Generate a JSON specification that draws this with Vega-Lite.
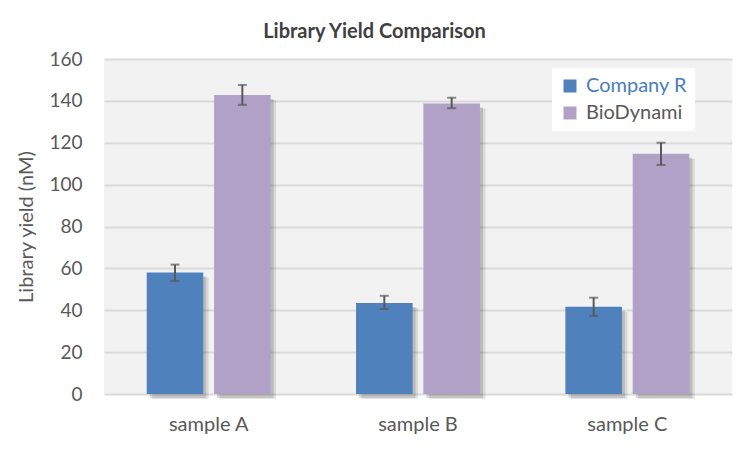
{
  "$schema": "https://vega.github.io/schema/vega-lite/v6.json",
  "width": 628,
  "height": 335,
  "padding": {"left": 16, "top": 22, "right": 23, "bottom": 10},
  "background": "white",
  "title": {
    "text": "Library Yield Comparison",
    "font": "Lato",
    "fontSize": 20,
    "fontWeight": "bold",
    "color": "#404040",
    "anchor": "middle",
    "frame": "bounds",
    "offset": 8
  },
  "data": {
    "values": [
      {"sample": "sample A", "company": "Company R", "yield": 58, "lo": 54, "hi": 61.8},
      {"sample": "sample A", "company": "BioDynami", "yield": 142.8, "lo": 138.1, "hi": 147.6},
      {"sample": "sample B", "company": "Company R", "yield": 43.5, "lo": 40.6, "hi": 46.9},
      {"sample": "sample B", "company": "BioDynami", "yield": 138.8, "lo": 136.5, "hi": 141.5},
      {"sample": "sample C", "company": "Company R", "yield": 41.7, "lo": 37.3, "hi": 46},
      {"sample": "sample C", "company": "BioDynami", "yield": 114.7, "lo": 109.4, "hi": 120}
    ]
  },
  "encoding": {
    "x": {
      "field": "sample",
      "type": "nominal",
      "scale": {"paddingInner": 0.408, "paddingOuter": 0.204},
      "axis": {
        "title": null,
        "labelAngle": 0,
        "domain": false,
        "ticks": false,
        "labelFont": "Lato",
        "labelFontSize": 20,
        "labelColor": "#595959",
        "labelPadding": 20
      }
    },
    "xOffset": {
      "field": "company",
      "type": "nominal",
      "sort": ["Company R", "BioDynami"],
      "scale": {"paddingInner": 0.16, "paddingOuter": 0}
    }
  },
  "layer": [
    {
      "mark": {"type": "bar", "color": "#000000", "opacity": 0.10, "yOffset": 5, "y2Offset": -5},
      "encoding": {
        "xOffset": {
          "field": "company",
          "type": "nominal",
          "sort": ["Company R", "BioDynami"],
          "scale": {"paddingInner": 0.16, "paddingOuter": 0, "range": [5.5, 129.4]}
        },
        "y": {"field": "yield", "type": "quantitative"}
      }
    },
    {
      "mark": {"type": "bar", "color": "#000000", "opacity": 0.14, "yOffset": 4, "y2Offset": -4},
      "encoding": {
        "xOffset": {
          "field": "company",
          "type": "nominal",
          "sort": ["Company R", "BioDynami"],
          "scale": {"paddingInner": 0.16, "paddingOuter": 0, "range": [3, 126.9]}
        },
        "y": {"field": "yield", "type": "quantitative"}
      }
    },
    {
      "mark": {"type": "bar"},
      "encoding": {
        "y": {
          "field": "yield",
          "type": "quantitative",
          "scale": {"domain": [0, 160]},
          "axis": {
            "title": "Library yield (nM)",
            "titleFont": "Lato",
            "titleFontSize": 20,
            "titleFontWeight": "normal",
            "titleColor": "#595959",
            "titlePadding": 12,
            "values": [0, 20, 40, 60, 80, 100, 120, 140, 160],
            "domain": false,
            "ticks": false,
            "labelFont": "Lato",
            "labelFontSize": 19,
            "labelColor": "#595959",
            "labelPadding": 22,
            "gridColor": "#D9D9D9",
            "gridWidth": 2
          }
        },
        "color": {
          "field": "company",
          "type": "nominal",
          "sort": ["Company R", "BioDynami"],
          "scale": {"domain": ["Company R", "BioDynami"], "range": ["#4F81BD", "#B2A1C7"]},
          "legend": {
            "title": null,
            "orient": "none",
            "legendX": 448,
            "legendY": 9,
            "fillColor": "white",
            "padding": 8,
            "symbolType": "square",
            "symbolSize": 169,
            "symbolStrokeWidth": 0,
            "labelFont": "Lato",
            "labelFontSize": 20,
            "labelColor": {"expr": "datum.value === 'Company R' ? '#4A7EBB' : '#595959'"},
            "rowPadding": 7,
            "labelOffset": 6
          }
        }
      }
    },
    {
      "mark": {"type": "rule", "color": "#595959", "strokeWidth": 2},
      "encoding": {
        "y": {"field": "lo", "type": "quantitative"},
        "y2": {"field": "hi"}
      }
    },
    {
      "mark": {"type": "tick", "color": "#595959", "thickness": 2, "size": 9},
      "encoding": {
        "y": {"field": "lo", "type": "quantitative"}
      }
    },
    {
      "mark": {"type": "tick", "color": "#595959", "thickness": 2, "size": 9},
      "encoding": {
        "y": {"field": "hi", "type": "quantitative"}
      }
    }
  ],
  "resolve": {"scale": {"xOffset": "independent"}},
  "config": {
    "view": {"fill": "#F2F2F2", "stroke": null}
  }
}
